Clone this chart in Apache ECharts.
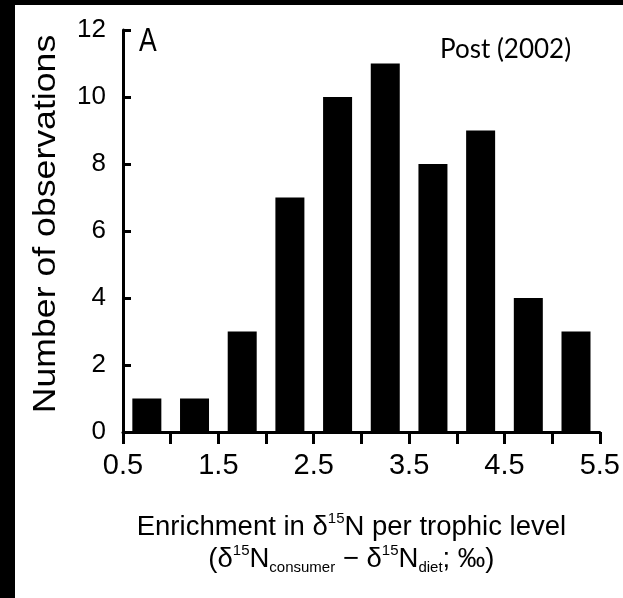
<!DOCTYPE html>
<html><head><meta charset="utf-8">
<script src="https://cdn.jsdelivr.net/npm/echarts@6/dist/echarts.min.js"></script>
<style>
html,body{margin:0;padding:0;background:#000;width:623px;height:598px;overflow:hidden}
#chart{position:absolute;left:15px;top:5px;width:608px;height:593px;background:#fff}
</style></head><body><div id="chart"></div>
<script>
const binCenters = [0.75, 1.25, 1.75, 2.25, 2.75, 3.25, 3.75, 4.25, 4.75, 5.25];
const counts = [1, 1, 3, 7, 10, 11, 8, 9, 4, 3];
const xTickLabels = ['0.5', '1.5', '2.5', '3.5', '4.5', '5.5'];
const yTickLabels = ['0', '2', '4', '6', '8', '10', '12'];
const yTitle = 'Number of observations';

const FONT = '"Liberation Sans", Arial, Helvetica, sans-serif';
const chart = echarts.init(document.getElementById('chart'));
chart.setOption({
  animation: false,
  backgroundColor: '#fff',
  grid: { left: 108, right: 23, top: 25, bottom: 166 },
  xAxis: {
    type: 'value', min: 0.5, max: 5.5, interval: 0.5,
    axisLine: { lineStyle: { color: '#000', width: 3 } },
    axisTick: { show: true, inside: false, length: 12, lineStyle: { color: '#000', width: 3 } },
    splitLine: { show: false },
    axisLabel: {
      margin: 19, color: '#000', fontSize: 29, fontFamily: FONT,
      formatter: v => { const s = v.toFixed(1); return xTickLabels.includes(s) ? s : ''; }
    },
    name: '{n|Enrichment in δ}{sup|15}{n|N per trophic level}\n{n|(δ}{sup|15}{n|N}{sub|consumer}{n| − δ}{sup|15}{n|N}{sub|diet}{n|; ‰)}',
    nameLocation: 'middle', nameGap: 79,
    nameTextStyle: {
      color: '#000', fontFamily: FONT, padding: [0, 20, 0, 0],
      rich: {
        n: { fontSize: 27.5, lineHeight: 32, fontFamily: FONT, color: '#000' },
        sup: { fontSize: 15, lineHeight: 15, verticalAlign: 'top', fontFamily: FONT, color: '#000' },
        sub: { fontSize: 15, lineHeight: 15, verticalAlign: 'bottom', fontFamily: FONT, color: '#000' }
      }
    }
  },
  yAxis: {
    type: 'value', min: 0, max: 12, interval: 2,
    axisLine: { show: true, lineStyle: { color: '#000', width: 3 } },
    axisTick: { show: true, inside: true, length: 8, lineStyle: { color: '#000', width: 3 } },
    splitLine: { show: false },
    axisLabel: {
      margin: 17, color: '#000', fontSize: 26, fontFamily: FONT,
      formatter: v => yTickLabels.includes(String(v)) ? String(v) : ''
    }
  },
  graphic: [
    { type: 'text', x: 31, y: 219, rotation: Math.PI / 2, scaleX: 1.15,
      style: { text: yTitle, font: '31px ' + FONT, fill: '#000', textAlign: 'center', textVerticalAlign: 'middle' } },
    { type: 'text', left: 124, top: 20, scaleX: 0.78,
      style: { text: 'A', font: '34px ' + FONT, fill: '#000' } },
    { type: 'text', left: 425, top: 32,
      style: { text: 'Post (2002)', font: '26px Lato, "Open Sans", sans-serif', fill: '#000' } }
  ],
  series: [{
    type: 'bar', barWidth: 29,
    itemStyle: { color: '#000' },
    data: binCenters.map((c, i) => [c, counts[i]])
  }]
});
</script></body></html>
